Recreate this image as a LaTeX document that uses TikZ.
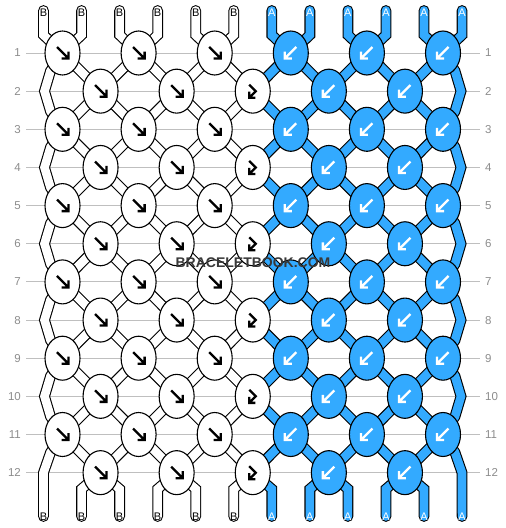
\documentclass[tikz,border=0pt]{standalone}
\usepackage{fontspec}
\setmainfont{Liberation Sans}
\usetikzlibrary{shapes.geometric,backgrounds}
\definecolor{threadblue}{RGB}{51,170,255}

\begin{document}
\begin{tikzpicture}
[
x=1pt, y=-1pt,
RowLine/.style={draw=black!25, line width=1pt},
RowLabel/.style={text=black!45, inner sep=0pt, font=\fontsize{11.5}{12}\selectfont},
EndLabel/.style={inner sep=0pt, font=\fontsize{11}{11}\selectfont},
WhiteThread/.style={draw=black, line width=1.1pt, double=white, double distance=8.6pt},
BlueThread/.style={draw=black, line width=1.1pt, double=threadblue, double distance=8.6pt},
WhiteKnot/.style={ellipse, draw=black, fill=white, line width=1.1pt, minimum width=35pt, minimum height=44pt, inner sep=0pt},
BlueKnot/.style={WhiteKnot, fill=threadblue},
KnotArrow/.style={line width=2.3pt, line join=miter},
Watermark/.style={inner sep=0pt, font=\bfseries\fontsize{14}{14}\selectfont},
]

\useasboundingbox (0,0) rectangle (506,528);

% knots: 6 on odd rows, 5 on even rows
\foreach \r in {1,...,12}
{
  \foreach \c in {1,...,11}
  {
    \ifodd\numexpr\r+\c\relax\else
      \ifnum\c<7 \def\knot{WhiteKnot}\else\def\knot{BlueKnot}\fi
      \node[\knot] (k-\r-\c) at ({62.5+38.05*(\c-1)},{53+38.15*(\r-1)}) {};
      \ifnum\c<6
        \draw[KnotArrow] ([shift={(-5.5,-6)}]k-\r-\c.center) -- ++(11.5,11.5) ++(-7,0) -- ++(7,0) -- ++(0,-7);
      \fi
      \ifnum\c=6
        \draw[KnotArrow] ([shift={(-3.5,-6.5)}]k-\r-\c.center) -- ++(6.5,6.5) -- ++(-6.5,6.5) ++(6,0) -- ++(-6,0) -- ++(0,-6);
      \fi
      \ifnum\c>6
        \draw[KnotArrow, white] ([shift={(5.5,-6)}]k-\r-\c.center) -- ++(-11.5,11.5) ++(7,0) -- ++(-7,0) -- ++(0,-7);
      \fi
    \fi
  }
}

% row numbers
\foreach \r in {1,...,12}
{
  \node[RowLabel, anchor=east] (ll-\r) at (21,{53+38.15*(\r-1)}) {\r};
  \node[RowLabel, anchor=west] (lr-\r) at (485,{53+38.15*(\r-1)}) {\r};
}

% thread ends
\foreach \i in {1,...,12}
{
  \ifnum\i<7 \def\col{black}\def\tag{B}\else\def\col{white}\def\tag{A}\fi
  \coordinate (top-\i) at ({43.5+38.05*(\i-1)},10.5);
  \coordinate (bot-\i) at ({43.5+38.05*(\i-1)},516.5);
  \node[EndLabel, text=\col] (lt-\i) at ({43.5+38.05*(\i-1)},12.5) {\tag};
  \node[EndLabel, text=\col] (lb-\i) at ({43.5+38.05*(\i-1)},517) {\tag};
}

\begin{scope}[on background layer]
\foreach \r in {1,...,12}
{
  \draw[RowLine, shorten <=5pt, shorten >=5pt] (ll-\r) -- (lr-\r);
}

% threads between knots
\foreach \r [evaluate=\r as \s using int(\r+1)] in {1,...,11}
{
  \foreach \c [evaluate=\c as \d using int(\c+1)] in {1,...,10}
  {
    \ifnum\c<6 \def\thread{WhiteThread}\else\def\thread{BlueThread}\fi
    \ifodd\numexpr\r+\c\relax
      \draw[\thread] (k-\r-\d.center) -- (k-\s-\c.center);
    \else
      \draw[\thread] (k-\r-\c.center) -- (k-\s-\d.center);
    \fi
  }
}

% outer threads bend out on even rows
\foreach \r [evaluate=\r as \s using int(\r+2)] in {1,3,...,9}
{
  \draw[WhiteThread] (k-\r-1.center) -- ++(-12,18) -- (44.5,{53+38.15*\r}) -- ([shift={(-12,-18)}]k-\s-1.center) -- (k-\s-1.center);
  \draw[BlueThread] (k-\r-11.center) -- ++(12,18) -- (461,{53+38.15*\r}) -- ([shift={(12,-18)}]k-\s-11.center) -- (k-\s-11.center);
}

% loose ends top and bottom
\foreach \i in {1,...,12}
{
  \ifnum\i<7 \def\thread{WhiteThread}\else\def\thread{BlueThread}\fi
  \pgfmathtruncatemacro\t{\i-1+mod(\i,2)}
  \draw[\thread, line cap=round] (top-\i) -- ({43.5+38.05*(\i-1)},35) -- (k-1-\t.center);
}
\foreach \i in {2,...,11}
{
  \ifnum\i<7 \def\thread{WhiteThread}\else\def\thread{BlueThread}\fi
  \pgfmathtruncatemacro\b{\i-mod(\i,2)}
  \draw[\thread, line cap=round] (k-12-\b.center) -- ({43.5+38.05*(\i-1)},489) -- (bot-\i);
}
\draw[WhiteThread, line cap=round] (k-11-1.center) -- ++(-12,18) -- (43.5,472.65) -- (bot-1);
\draw[BlueThread, line cap=round] (k-11-11.center) -- ++(12,18) -- (462,472.65) -- (bot-12);
\end{scope}

\node[Watermark, text=black!78] (mark) at (253,263) {BRACELETBOOK.COM};

\end{tikzpicture}
\end{document}
